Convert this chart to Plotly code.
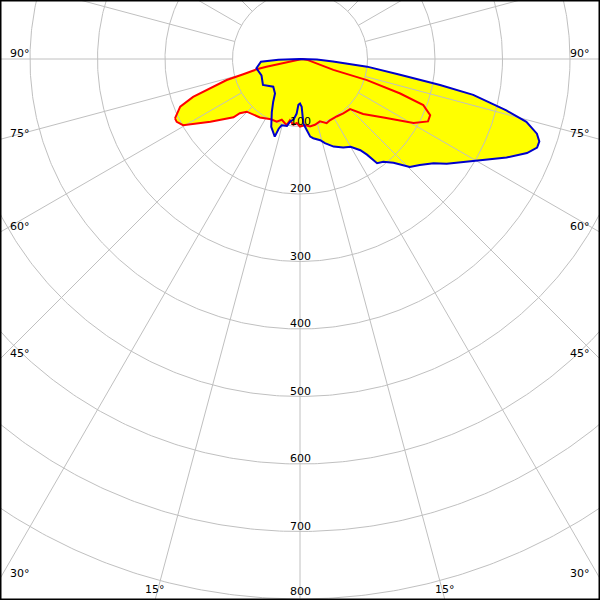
import numpy as np
import plotly.graph_objects as go

# Luminous intensity (cd/klm) vs. gamma angle (deg from nadir, + = right side)
# C0-C180 plane (red), listed along the curve outline
red_gamma = [-64.6, -68.3, -70.5, -72.0, -74.0, -75.0, -76.6, -77.0, -74.5, 90.0, 82.0,
             72.0, 72.5, 71.0, 69.5, 66.7, 64.0, 60.6, 55.0, 49.0, 45.0, 38.5, 32.5,
             26.0, 22.5, 17.7, 12.8, 8.4, 4.3, 0.0, -2.9, -5.8, -9.3, -11.4, -16.7,
             -20.4, -25.7, -34.5, -45.3, -48.0, -48.8, -55.0, -60.5, -63.0]
red_cd = [205, 191, 168, 140, 113, 87, 66, 51, 20, 3, 12,
          52, 104, 157, 195, 210, 211, 193, 151, 124, 105, 103, 101,
          101, 103, 97, 100, 101, 98, 100, 95, 98, 92, 100, 94,
          99, 99, 105, 111, 120, 131, 162, 199, 205]

# C90-C270 plane (blue)
blue_gamma = [-90, -88, -86, -78, -67, -55, -44, -36, -32, -28, -23, -18, -17, -15.5,
              -11, -9, -6, -3.5, -2, 0, 2, 3, 5.5, 7.5, 9.5, 14, 16.5, 21, 26, 30,
              33.5, 35, 36.5, 39, 42, 45.5, 48.5, 52, 54.5, 59.5, 64.5, 67.5, 69.5,
              71, 72.5, 74.5, 76, 78.3, 79.5, 81, 83.5, 85.5, 88, 90]
blue_cd = [0, 32, 58, 66, 62, 67, 57, 63, 75, 89, 109, 121, 108, 102,
           101, 94, 90, 81, 68, 66, 71, 96, 106, 116, 119, 124, 130, 139, 146, 150,
           162, 173, 192, 196, 207, 228, 237, 251, 267, 298, 339, 364, 375,
           375, 368, 348, 315, 262, 211, 150, 100, 49, 25, 0]

ring_values = [100, 200, 300, 400, 500, 600, 700, 800]
ring_labels = ["100", "200", "300", "400", "500", "600", "700", "800"]
angle_values = [90, 75, 60, 45, 30, 15]
angle_labels = ["90°", "75°", "60°", "45°", "30°", "15°"]

W, H = 600, 600
PX = 0.675        # pixels per cd
CY = 59           # centre distance from top (px)
XR = (W / 2) / PX
YTOP = CY / PX
YBOT = -(H - CY) / PX


def to_xy(g, i):
    g = np.radians(np.asarray(g, float))
    i = np.asarray(i, float)
    return i * np.sin(g), -i * np.cos(g)


fig = go.Figure()

rx, ry = to_xy(red_gamma, red_cd)
bx, by = to_xy(blue_gamma, blue_cd)

# yellow fills
for x, y in ((rx, ry), (bx, by)):
    fig.add_trace(go.Scatter(x=np.append(x, x[0]), y=np.append(y, y[0]), mode="lines",
                             fill="toself", fillcolor="#ffff00",
                             line=dict(width=0, color="#ffff00"), hoverinfo="skip"))

# grid: rings and spokes
gx, gy = [], []
t = np.linspace(0, 2 * np.pi, 721)
for r in ring_values:
    gx += list(r * np.cos(t)) + [None]
    gy += list(r * np.sin(t)) + [None]
for a in range(0, 360, 15):
    sx, sy = to_xy([a, a], [ring_values[0], 1200])
    gx += list(sx) + [None]
    gy += list(sy) + [None]
fig.add_trace(go.Scatter(x=gx, y=gy, mode="lines", line=dict(color="#c0c0c0", width=1),
                         hoverinfo="skip"))

# curves
fig.add_trace(go.Scatter(x=np.append(rx, rx[0]), y=np.append(ry, ry[0]), mode="lines",
                         line=dict(color="#ff0000", width=2), hoverinfo="skip"))
fig.add_trace(go.Scatter(x=np.append(bx, bx[0]), y=np.append(by, by[0]), mode="lines",
                         line=dict(color="#0000cc", width=2), hoverinfo="skip"))

font = dict(family="DejaVu Sans", size=11, color="black")
ann = []
for r, lab in zip(ring_values, ring_labels):
    ann.append(dict(x=0, y=-r, text=lab, showarrow=False, xanchor="center",
                    yanchor="bottom", yshift=-3 if r < 800 else -1, font=font))
for a, lab in zip(angle_values, angle_labels):
    g = np.radians(a)
    if np.cos(g) * XR <= -YBOT * np.sin(g) + 1e-9 or a == 90:
        # hits the side edges
        y = -XR * np.cos(g) / np.sin(g)
        ann.append(dict(x=-XR, y=y, text=lab, showarrow=False, xanchor="left",
                        yanchor="bottom", xshift=8, yshift=-3, font=font))
        ann.append(dict(x=XR, y=y, text=lab, showarrow=False, xanchor="right",
                        yanchor="bottom", xshift=-8, yshift=-3, font=font))
    else:
        x = -YBOT * np.tan(g)
        for sgn in (-1, 1):
            ann.append(dict(x=sgn * x, y=YBOT, text=lab, showarrow=False, xanchor="center",
                            yanchor="bottom", xshift=0, yshift=2, font=font))

fig.update_layout(
    width=W, height=H, margin=dict(l=0, r=0, t=0, b=0),
    paper_bgcolor="white", plot_bgcolor="white", showlegend=False,
    xaxis=dict(range=[-XR, XR], visible=False, fixedrange=True),
    yaxis=dict(range=[YBOT, YTOP], visible=False, fixedrange=True),
    annotations=ann,
    shapes=[dict(type="rect", xref="paper", yref="paper", x0=0, x1=1, y0=0, y1=1,
                 line=dict(color="black", width=3), layer="above")],
    hovermode=False,
)
fig.write_html("out.html", config={"displayModeBar": False},
               post_script="document.body.style.margin='0';document.body.style.overflow='hidden';")
